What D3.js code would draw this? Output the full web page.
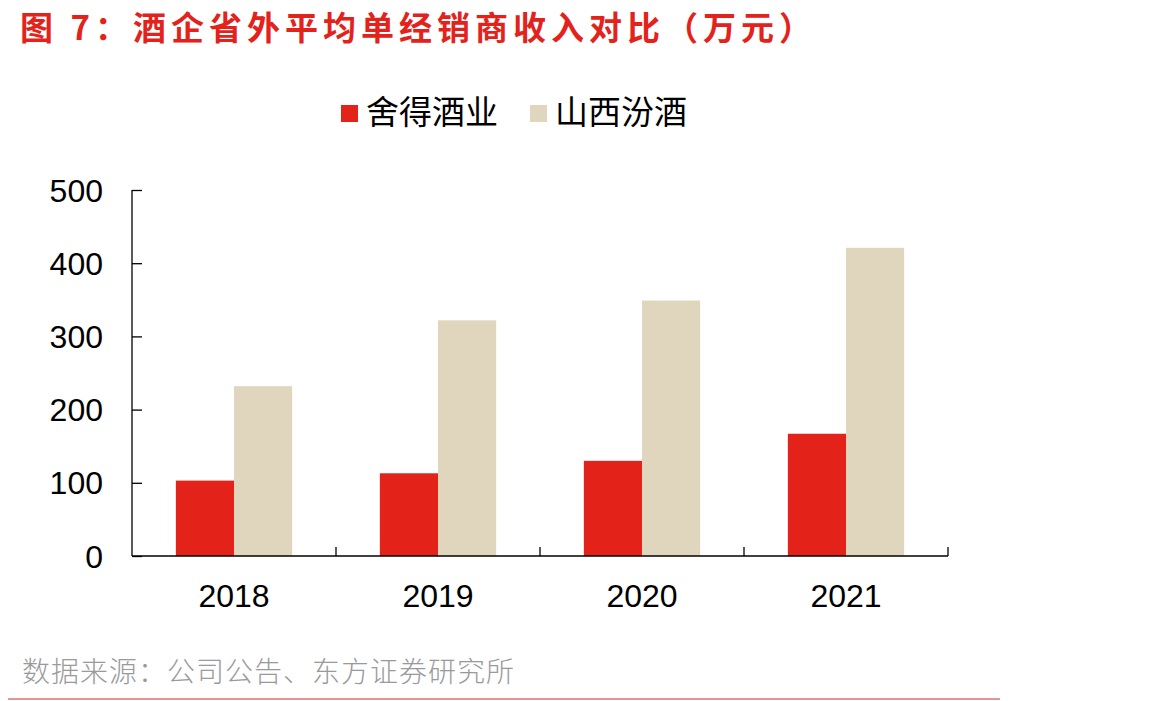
<!DOCTYPE html>
<html>
<head>
<meta charset="utf-8">
<script src="https://cdn.jsdelivr.net/npm/d3@7"></script>
<style>
    body { margin: 0; background: #fff; }
    svg { display: block; }
</style>
</head>
<body>
<svg width="1172" height="701"></svg>
<script>
const years = ["2018", "2019", "2020", "2021"];
const seriesNames = ["舍得酒业", "山西汾酒"];
const shede = [103, 113, 130, 167];
const fenjiu = [232, 322, 349, 421];
const yTicks = [0, 100, 200, 300, 400, 500];
const colors = ["#e3221a", "#dfd6bd"];

const svg = d3.select("svg");
const font = "Arial, 'Liberation Sans', 'Noto Sans CJK SC', sans-serif";
const cjk = "'Noto Sans CJK SC', 'Microsoft YaHei', sans-serif";

// 标题
svg.append("text")
    .attr("x", 20)
    .attr("y", 40)
    .attr("font-family", cjk)
    .attr("font-weight", "bold")
    .attr("font-size", 33)
    .attr("letter-spacing", 5)
    .attr("fill", "#e3231b")
    .text("图 7：酒企省外平均单经销商收入对比（万元）");

const x = d3.scaleBand().domain(years).range([132, 948]).padding(0);
const bw = x.bandwidth();
const xs = d3.scaleBand().domain(seriesNames).range([bw * 0.215, bw * 0.785]);
const y = d3.scaleLinear().domain([0, 500]).range([556, 190]);

// 柱子
const values = [shede, fenjiu];
seriesNames.forEach((name, s) => {
    svg.append("g")
        .selectAll("rect")
        .data(years)
        .join("rect")
        .attr("x", d => x(d) + xs(name))
        .attr("y", (d, i) => y(values[s][i]))
        .attr("width", xs.bandwidth())
        .attr("height", (d, i) => y(0) - y(values[s][i]))
        .attr("fill", colors[s]);
});

// y 轴
const yAxis = svg.append("g")
    .attr("transform", "translate(132,0)")
    .call(d3.axisRight(y).tickValues(yTicks).tickSize(10).tickFormat(""));
yAxis.select(".domain").attr("d", "M0," + y(0) + "V" + y(500)).attr("stroke", "#000").attr("stroke-width", 1.3);
yAxis.selectAll(".tick line").attr("stroke", "#000").attr("stroke-width", 1.3);

svg.append("g")
    .selectAll("text")
    .data(yTicks)
    .join("text")
    .attr("x", 103)
    .attr("y", d => y(d))
    .attr("dy", "0.36em")
    .attr("text-anchor", "end")
    .attr("font-family", font)
    .attr("font-size", 32)
    .attr("fill", "#000")
    .text(d => d);

// x 轴
const xAxis = svg.append("g")
    .attr("transform", "translate(0,556)");
xAxis.append("line")
    .attr("x1", 132).attr("x2", 948)
    .attr("stroke", "#000").attr("stroke-width", 1.5);
xAxis.selectAll(".sep")
    .data(years)
    .join("line")
    .attr("class", "sep")
    .attr("x1", d => x(d) + bw)
    .attr("x2", d => x(d) + bw)
    .attr("y1", 0).attr("y2", -9)
    .attr("stroke", "#000").attr("stroke-width", 1.3);
xAxis.selectAll("text")
    .data(years)
    .join("text")
    .attr("x", d => x(d) + bw / 2)
    .attr("y", 51)
    .attr("text-anchor", "middle")
    .attr("font-family", font)
    .attr("font-size", 32)
    .attr("fill", "#000")
    .text(d => d);

// 图例
const legendX = [341, 530];
const legend = svg.append("g")
    .selectAll("g")
    .data(seriesNames)
    .join("g")
    .attr("transform", (d, i) => "translate(" + legendX[i] + ",105)");
legend.append("rect")
    .attr("width", 17).attr("height", 17)
    .attr("fill", (d, i) => colors[i]);
legend.append("text")
    .attr("x", 25)
    .attr("y", 19)
    .attr("font-family", cjk)
    .attr("font-size", 33)
    .attr("fill", "#000")
    .text(d => d);

// 数据来源
svg.append("text")
    .attr("x", 22)
    .attr("y", 682)
    .attr("font-family", cjk)
    .attr("font-size", 28)
    .attr("letter-spacing", 1)
    .attr("font-weight", 300)
    .attr("fill", "#9a9a9a")
    .text("数据来源：公司公告、东方证券研究所");

svg.append("line")
    .attr("x1", 8).attr("x2", 1000)
    .attr("y1", 699).attr("y2", 699)
    .attr("stroke", "#e07070").attr("stroke-width", 1.5);
</script>
</body>
</html>
